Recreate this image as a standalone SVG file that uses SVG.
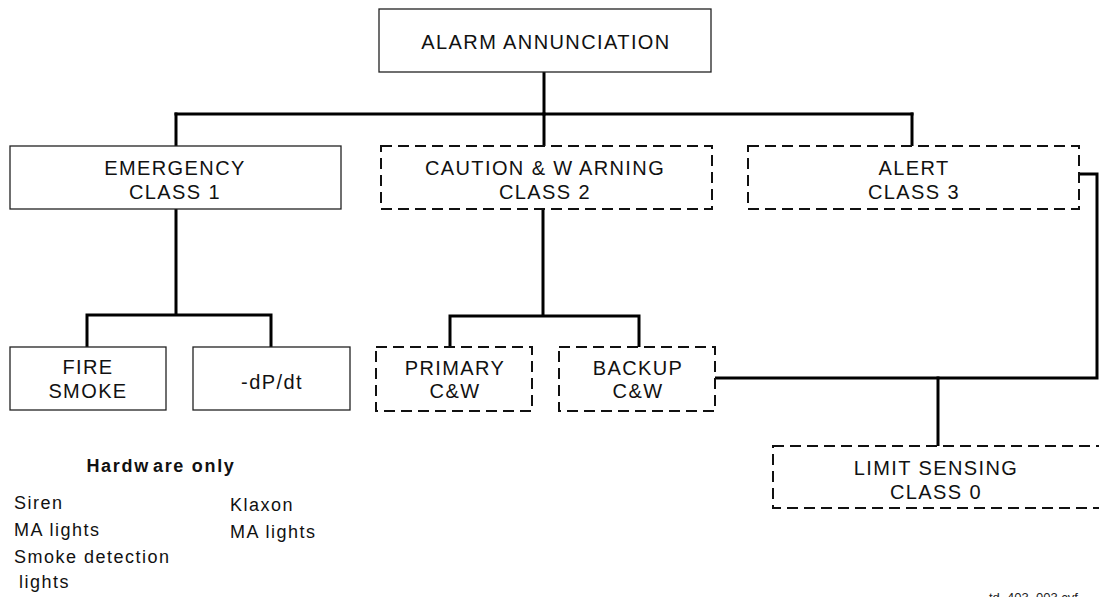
<svg xmlns="http://www.w3.org/2000/svg" width="1099" height="597" viewBox="0 0 1099 597">
<style>
.solid{fill:#fff;stroke:#222;stroke-width:1.3}
.dash{fill:#fff;stroke:#111;stroke-width:2;stroke-dasharray:11 6}
.lbl{font-family:"Liberation Sans",Arial,sans-serif;font-size:20px;letter-spacing:1.4px;fill:#111;text-anchor:middle}
.lst{font-family:"Liberation Sans",Arial,sans-serif;font-size:18px;letter-spacing:1.5px;fill:#111}
.hdr{font-family:"Liberation Sans",Arial,sans-serif;font-size:18px;font-weight:bold;letter-spacing:1.7px;fill:#111;text-anchor:middle}
.foot{font-family:"Liberation Sans",Arial,sans-serif;font-size:13px;fill:#222}
.conn path{fill:none;stroke:#000;stroke-width:3;stroke-linejoin:miter;stroke-linecap:square}
</style>
<rect width="1099" height="597" fill="#fff"/>
<g class="conn" id="connectors">
<path d="M544,73 V114"/>
<path d="M176,114 H912"/>
<path d="M176,114 V145"/>
<path d="M544,114 V145"/>
<path d="M912,114 V145"/>
<path d="M176,210 V315 M87,315 H271 M87,315 V346 M271,315 V346"/>
<path d="M543,210 V316 M450,316 H639 M450,316 V346 M639,316 V346"/>
<path d="M1080,174 H1097 V378 H716"/>
<path d="M938,378 V445"/>
</g>
<g id="alarm">
<rect class="solid" x="379" y="9" width="332" height="63"/>
<text class="lbl" x="546" y="49">ALARM ANNUNCIATION</text>
</g>
<g id="emergency">
<rect class="solid" x="10" y="146" width="331" height="63"/>
<text class="lbl" x="175" y="175">EMERGENCY</text>
<text class="lbl" x="175" y="199">CLASS 1</text>
</g>
<g id="caution">
<rect class="dash" x="381" y="146" width="331" height="63"/>
<text class="lbl" x="545" y="175">CAUTION &amp; W<tspan dx="6">ARNING</tspan></text>
<text class="lbl" x="545" y="199">CLASS 2</text>
</g>
<g id="alert">
<rect class="dash" x="748" y="146" width="331" height="63"/>
<text class="lbl" x="914" y="175">ALERT</text>
<text class="lbl" x="914" y="199">CLASS 3</text>
</g>
<g id="fire">
<rect class="solid" x="10" y="347" width="156" height="63"/>
<text class="lbl" x="88" y="374">FIRE</text>
<text class="lbl" x="88" y="398">SMOKE</text>
</g>
<g id="dpdt">
<rect class="solid" x="193" y="347" width="157" height="63"/>
<text class="lbl" x="272" y="389">-dP/dt</text>
</g>
<g id="primary">
<rect class="dash" x="376" y="347" width="156" height="64"/>
<text class="lbl" x="455" y="375">PRIMARY</text>
<text class="lbl" x="455" y="398">C&amp;W</text>
</g>
<g id="backup">
<rect class="dash" x="559" y="347" width="156" height="64"/>
<text class="lbl" x="638" y="375">BACKUP</text>
<text class="lbl" x="638" y="398">C&amp;W</text>
</g>
<g id="limit">
<rect class="dash" x="773" y="446" width="330" height="62"/>
<text class="lbl" x="936" y="475">LIMIT SENSING</text>
<text class="lbl" x="936" y="499">CLASS 0</text>
</g>
<g id="hardware">
<text class="hdr" x="161" y="472">Hardw<tspan dx="3">are only</tspan></text>
<text class="lst" x="14" y="509">Siren</text>
<text class="lst" x="14" y="536">MA lights</text>
<text class="lst" x="14" y="563">Smoke detection</text>
<text class="lst" x="19" y="588">lights</text>
<text class="lst" x="230" y="511">Klaxon</text>
<text class="lst" x="230" y="538">MA lights</text>
</g>
<text class="foot" x="989" y="602">td_403_003.cvf</text>
</svg>
